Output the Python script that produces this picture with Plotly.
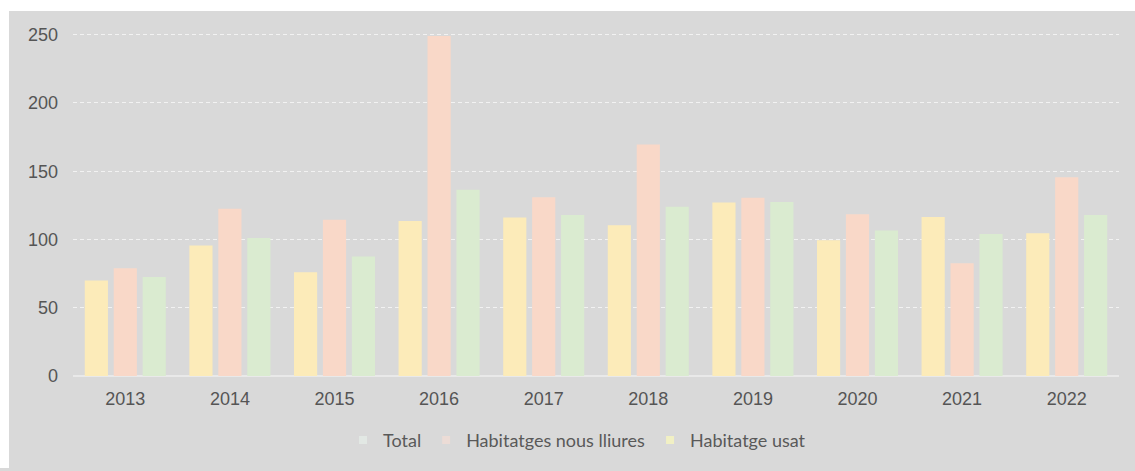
import plotly.graph_objects as go

# Annual values per housing type
years = ["2013", "2014", "2015", "2016", "2017", "2018", "2019", "2020", "2021", "2022"]
habitatge_usat = [70, 95.5, 76, 113.5, 116, 110.5, 127, 99.5, 116.5, 104.5]
habitatges_nous = [79, 122.5, 114.5, 249, 131, 169.5, 130.5, 118.5, 82.5, 145.5]
total = [72.5, 101, 87.5, 136.5, 118, 124, 127.5, 106.5, 104, 118]
y_ticks = [0, 50, 100, 150, 200, 250]

series = [
    ("Habitatge usat", habitatge_usat, "#fcebb9", "#f1f0c4"),
    ("Habitatges nous lliures", habitatges_nous, "#f9d8c8", "#ecdcd6"),
    ("Total", total, "#daebd0", "#e2e8e4"),
]

W, H = 1135, 471
L, R, T, B = 73, 16, 21, 91
plot_w = W - L - R
plot_h = H - T - B

def px_to_paper_x(px):
    return (px - L) / plot_w

def px_to_paper_y(py):
    return (H - B - py) / plot_h

fig = go.Figure()
for name, values, color, _ in series:
    fig.add_trace(go.Bar(name=name, x=years, y=values, showlegend=False,
                         marker=dict(color=color, line=dict(width=0))))

# Small soft legend keys
for name, _, _, key_color in series:
    fig.add_trace(go.Scatter(name=name, x=[None], y=[None], mode="markers",
                             marker=dict(symbol="square", size=8, color=key_color,
                                         line=dict(width=0))))

tick_font = dict(family="Liberation Sans, Arial, sans-serif", size=18, color="#555555")

fig.update_layout(
    width=W, height=H,
    margin=dict(l=L, r=R, t=T, b=B, pad=0),
    paper_bgcolor="#d9d9d9",
    plot_bgcolor="rgba(0,0,0,0)",
    barmode="group",
    bargap=0.17,
    bargroupgap=0.2,
    showlegend=True,
    legend=dict(
        orientation="h",
        traceorder="reversed",
        x=px_to_paper_x(577), xanchor="center",
        y=px_to_paper_y(445), yanchor="middle",
        font=dict(family="Lato, Open Sans, sans-serif", size=18, color="#595959"),
        bgcolor="rgba(0,0,0,0)",
        itemclick=False,
    ),
    xaxis=dict(
        showgrid=False, showline=False, zeroline=False,
        tickfont=tick_font, ticks="", ticklabelstandoff=10,
    ),
    yaxis=dict(
        range=[0, 260],
        tickvals=y_ticks,
        tickfont=tick_font,
        ticks="", ticklabelstandoff=14,
        showgrid=True, gridcolor="#f2f2f2", gridwidth=1, griddash="4px,3px",
        zeroline=True, zerolinecolor="#e9e9e9", zerolinewidth=2,
        showline=False,
    ),
    # white page margin along the top and left of the grey panel
    shapes=[
        dict(type="rect", xref="paper", yref="paper", layer="below",
             x0=px_to_paper_x(-2), x1=px_to_paper_x(W + 2),
             y0=px_to_paper_y(11), y1=px_to_paper_y(-2),
             fillcolor="#ffffff", line=dict(width=0)),
        dict(type="rect", xref="paper", yref="paper", layer="below",
             x0=px_to_paper_x(-2), x1=px_to_paper_x(9),
             y0=px_to_paper_y(H + 2), y1=px_to_paper_y(-2),
             fillcolor="#ffffff", line=dict(width=0)),
    ],
)

fig.write_html("out.html")
